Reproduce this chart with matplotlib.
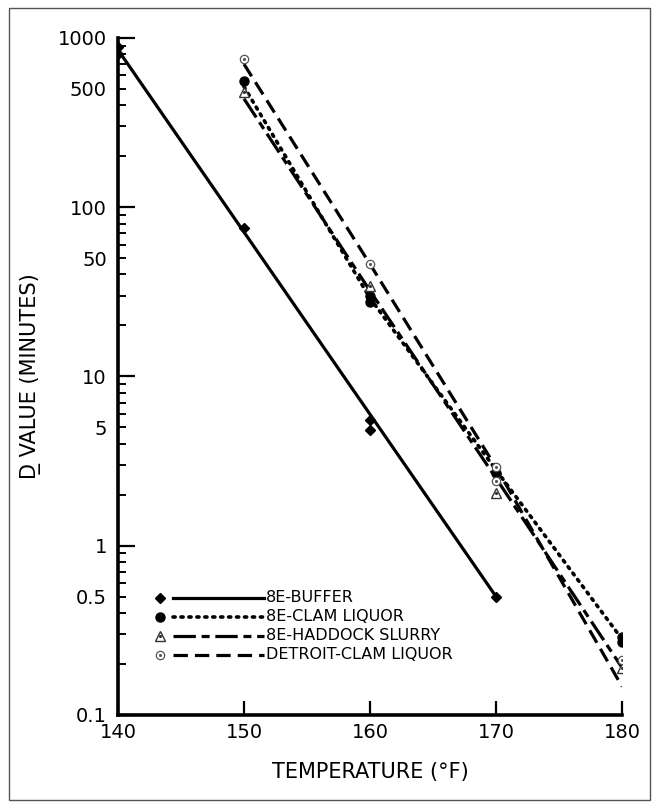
import numpy as np
import matplotlib
matplotlib.use("Agg")
import matplotlib.pyplot as plt
from matplotlib.ticker import LogLocator, FuncFormatter, FixedLocator
from matplotlib.patches import Rectangle

# measured points (D value in minutes)
buffer_t = [140, 140, 150, 160, 160, 170]
buffer_d = [880, 800, 75, 5.5, 4.8, 0.5]
clam_t = [150, 160, 160, 170, 180, 180]
clam_d = [560, 30, 27.5, 2.7, 0.29, 0.27]
haddock_t = [150, 160, 170, 180]
haddock_d = [480, 34, 2.05, 0.19]
detroit_t = [150, 160, 170, 170, 180]
detroit_d = [750, 46, 2.9, 2.4, 0.21]

# fitted lines
buffer_line_t = [140, 170]
buffer_line_d = [850, 0.5]
line_t = [150, 160, 170, 180]
clam_line_d = [515, 29, 2.8, 0.28]
haddock_line_d = [437, 32, 2.5, 0.19]
detroit_line_d = [700, 46, 2.9, 0.147]

legend_labels = ["8E-BUFFER", "8E-CLAM LIQUOR", "8E-HADDOCK SLURRY",
                 "DETROIT-CLAM LIQUOR"]

fig = plt.figure(figsize=(6.59, 8.06), dpi=100)
ax = fig.add_axes([0.179, 0.113, 0.765, 0.84])

lw = 2.3
styles = {
    "buffer": dict(ls="-", lw=lw),
    "clam": dict(ls=(0, (0.6, 1.6)), lw=2.6, dash_capstyle="round"),
    "haddock": dict(ls=(0, (7, 1.8, 2.5, 1.8)), lw=lw),
    "detroit": dict(ls=(0, (4.5, 2.2)), lw=lw),
}

ax.plot(buffer_line_t, buffer_line_d, color="black", **styles["buffer"])
ax.plot(line_t, clam_line_d, color="black", **styles["clam"])
ax.plot(line_t, haddock_line_d, color="black", **styles["haddock"])
ax.plot(line_t, detroit_line_d, color="black", **styles["detroit"])

def mark(a, x, y, kind, **kw):
    if kind == "buffer":
        a.plot(x, y, "D", ms=5.5, color="black", ls="none", **kw)
    elif kind == "clam":
        a.plot(x, y, "o", ms=6.5, color="black", ls="none", **kw)
    elif kind == "haddock":
        a.plot(x, y, "^", ms=7, mfc="white", mec="#333333", mew=1.0, ls="none", **kw)
        a.plot(x, y, ".", ms=2.5, color="#333333", ls="none", **kw)
    else:
        a.plot(x, y, "o", ms=6, mfc="white", mec="#555555", mew=0.9, ls="none", **kw)
        a.plot(x, y, ".", ms=2.5, color="#555555", ls="none", **kw)

mark(ax, buffer_t, buffer_d, "buffer", zorder=3)
mark(ax, clam_t, clam_d, "clam", zorder=3)
mark(ax, haddock_t, haddock_d, "haddock", zorder=3)
mark(ax, detroit_t, detroit_d, "detroit", zorder=3)

ax.set_yscale("log")
ax.set_ylim(0.1, 1000)
ax.set_xlim(140, 180)

for s in ["top", "right"]:
    ax.spines[s].set_visible(False)
for s in ["left", "bottom"]:
    ax.spines[s].set_linewidth(2.6)

ax.xaxis.set_major_locator(FixedLocator([140, 150, 160, 170, 180]))
ax.tick_params(axis="x", direction="in", length=10, width=1.6, labelsize=14, pad=6)
ax.yaxis.set_major_locator(LogLocator(base=10, numticks=10))
ax.yaxis.set_minor_locator(LogLocator(base=10, subs=np.arange(2, 10), numticks=10))
ax.yaxis.set_major_formatter(FuncFormatter(lambda v, p: f"{v:g}"))
ax.yaxis.set_minor_formatter(
    FuncFormatter(lambda v, p: f"{v:g}" if round(v / 10 ** np.floor(np.log10(v) + 1e-9)) == 5 else ""))
ax.tick_params(axis="y", which="major", direction="in", length=12, width=1.6, labelsize=14, pad=8)
ax.tick_params(axis="y", which="minor", direction="in", length=6, width=1.4, labelsize=14, pad=8)

ax.set_xlabel("TEMPERATURE (°F)", fontsize=15, labelpad=14)
ax.set_ylabel("D\u0332 VALUE (MINUTES)", fontsize=15, labelpad=12)

# legend drawn by hand: marker, line sample, text
kinds = ["buffer", "clam", "haddock", "detroit"]
rows = [0.173, 0.145, 0.117, 0.089]
for kind, label, yy in zip(kinds, legend_labels, rows):
    mark(ax, [0.083], [yy], kind, transform=ax.transAxes, clip_on=False)
    ax.plot([0.11, 0.29], [yy, yy], color="black", transform=ax.transAxes,
            **styles[kind])
    ax.text(0.294, yy, label, transform=ax.transAxes, fontsize=11.5,
            va="center", ha="left")

fig.patches.append(Rectangle((0.014, 0.008), 0.972, 0.982, transform=fig.transFigure,
                             fill=False, lw=1.0, ec="#555555"))

fig.savefig("out.png", dpi=100)
